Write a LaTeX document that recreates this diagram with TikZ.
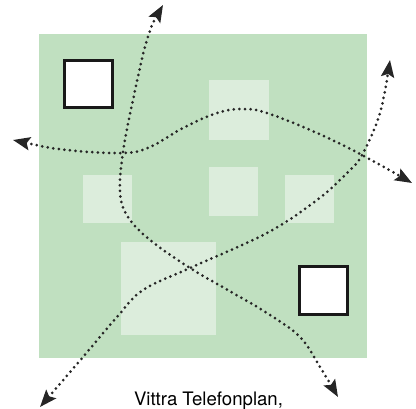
\documentclass[tikz,border=0pt]{standalone}
\usepackage{fontspec}
\setmainfont{TeX Gyre Heros}
\usetikzlibrary{arrows.meta}
\definecolor{site}{HTML}{C0E0C0}
\definecolor{pale}{HTML}{DCEDDC}
\tikzset{
  palebox/.style={fill=pale, draw=none},
  whitebox/.style={fill=white, draw=black!90, line width=3pt},
  route/.style={line width=3pt, line cap=round, dash pattern=on 0pt off 5.6pt, black!85,
    {Stealth[length=17pt,width=13pt,inset=3pt]}-{Stealth[length=17pt,width=13pt,inset=3pt]}}
}
\begin{document}
\begin{tikzpicture}[x=1pt,y=-1pt]
\useasboundingbox (0,0) rectangle (416,409);
\fill[site] (39,34) rectangle (367,358);
\fill[palebox] (209,80) rectangle (269,140);
\fill[palebox] (83,175) rectangle (132,223);
\fill[palebox] (209,167) rectangle (258,216);
\fill[palebox] (285,175) rectangle (334,223);
\fill[palebox] (121,242) rectangle (216,335);
\draw[whitebox] (64,61) rectangle (112,108);
\draw[whitebox] (299,267) rectangle (347,315);
\draw[route] plot[smooth, tension=0.6] coordinates {(163,5) (147,40) (133,100) (123,152) (120,193) (128,217) (150,240) (190,268) (233,293) (267,313) (300,337) (320,367) (338,397)};
\draw[route] plot[smooth, tension=0.6] coordinates {(13,140) (67,150) (123,153) (150,147) (183,128) (217,113) (243,109) (267,113) (317,133) (362,155) (412,183)};
\draw[route] plot[smooth, tension=0.6] coordinates {(40,407) (83,357) (117,317) (143,290) (190,268) (267,233) (317,200) (347,173) (362,155) (380,113) (390,60)};
\node[anchor=base, font=\fontsize{18.6}{20}\selectfont, inner sep=0pt] (cap) at (208.5,406) {Vittra Telefonplan,};
\end{tikzpicture}
\end{document}
